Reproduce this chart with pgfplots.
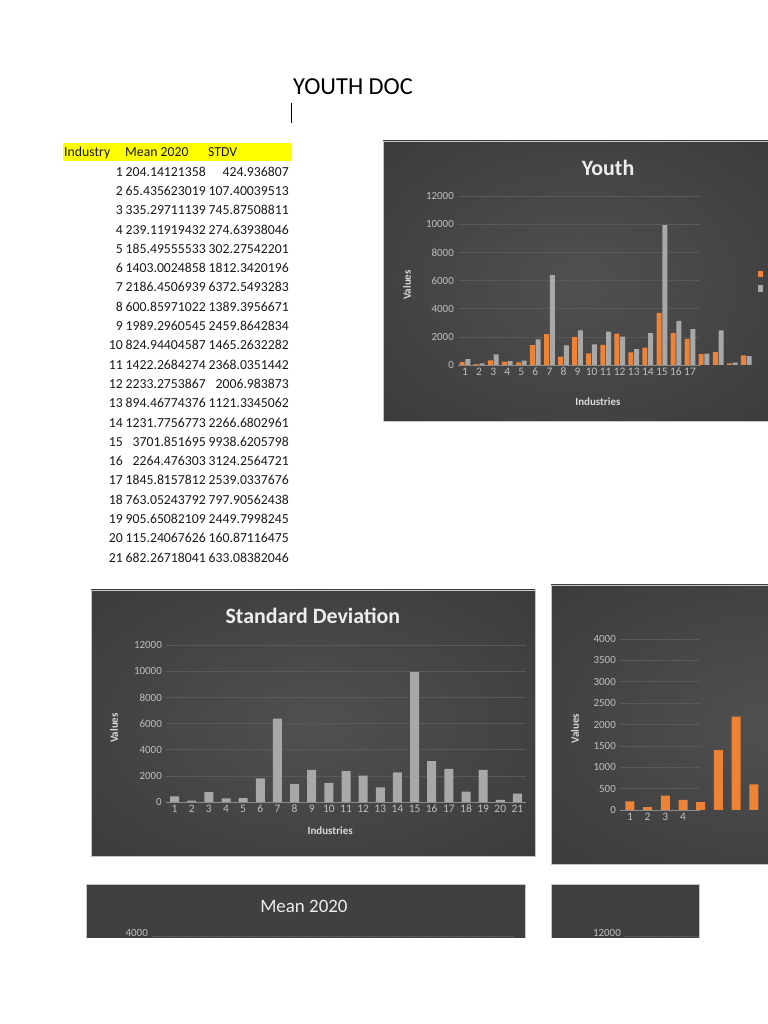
\documentclass[border=0pt]{standalone}
\usepackage{pgfplots}
\pgfplotsset{compat=1.18}
\usepackage{pgfplotstable}
\usepackage{fontspec}
\setmainfont{Carlito}
\definecolor{pnlin}{HTML}{505050}
\definecolor{pnlout}{HTML}{262626}
\definecolor{pnlflat}{HTML}{404040}
\definecolor{xlorange}{HTML}{EE8236}
\definecolor{xlgray}{HTML}{A8A8A8}
\definecolor{xltick}{HTML}{BFBFBF}
\definecolor{xlgrid}{HTML}{595959}
\definecolor{xlaxis}{HTML}{8C8C8C}
\definecolor{xltitle}{HTML}{EDEDED}
\definecolor{xllabel}{HTML}{D9D9D9}
\definecolor{xlyellow}{HTML}{FFFF00}
\pgfdeclareradialshading{panelshade}{\pgfpoint{0bp}{0bp}}{color(0bp)=(pnlin); color(72bp)=(pnlout)}

\pgfplotstableread{
ind mean stdv
1 204.14121358 424.936807
2 65.435623019 107.40039513
3 335.29711139 745.87508811
4 239.11919432 274.63938046
5 185.49555533 302.27542201
6 1403.0024858 1812.3420196
7 2186.4506939 6372.5493283
8 600.85971022 1389.3956671
9 1989.2960545 2459.8642834
10 824.94404587 1465.2632282
11 1422.2684274 2368.0351442
12 2233.2753867 2006.983873
13 894.46774376 1121.3345062
14 1231.7756773 2266.6802961
15 3701.851695 9938.6205798
16 2264.476303 3124.2564721
17 1845.8157812 2539.0337676
18 763.05243792 797.90562438
19 905.65082109 2449.7998245
20 115.24067626 160.87116475
21 682.26718041 633.08382046
}\youth

\pgfplotsset{
  xlpanel/.style={
    scale only axis,
    axis x line*=bottom,
    axis y line*=left,
    y axis line style={draw=none},
    x axis line style={draw=xlaxis, line width=0.8bp},
    ymajorgrids,
    grid style={draw=xlgrid, line width=0.6bp},
    major tick length=0pt,
    tick label style={font=\fontsize{11}{13}\selectfont, text=xltick},
    yticklabel style={anchor=east, inner sep=0pt, xshift=-4bp},
    xticklabel style={anchor=north, inner sep=0pt, yshift=-3bp, text height=7.5bp, text depth=0bp, font=\fontsize{11.5}{13}\selectfont},
    /pgf/number format/assume math mode=true,
    scaled y ticks=false,
    yticklabel style={/pgf/number format/1000 sep={}},
    ymin=0,
    title style={font=\fontsize{22}{26}\selectfont\bfseries, text=xltitle, anchor=center},
    label style={font=\fontsize{11}{13}\selectfont\bfseries, text=xllabel},
  }
}

\begin{document}
\begin{tikzpicture}[x=1bp,y=1bp]
\clip (0,0) rectangle (768,1024);
\fill[white] (0,0) rectangle (768,1024);

% document title and cursor
\node[anchor=base west, inner sep=0pt, font=\fontsize{24.5}{28}\selectfont] at (293,929) {YOUTH DOC};
\draw[line width=0.8bp] (291,901) -- (291,921);

% table
\fill[xlyellow] (63,863) rectangle (292,881);
\begin{scope}[every node/.style={inner sep=0pt, font=\fontsize{13.8}{16}\selectfont, text=black!90}]
\node[anchor=base west] at (64,867) {Industry};
\node[anchor=base west] at (125,867) {Mean 2020};
\node[anchor=base west] at (208,867) {STDV};
\foreach \i/\m/\s [count=\k] in {
1/204.14121358/424.936807,
2/65.435623019/107.40039513,
3/335.29711139/745.87508811,
4/239.11919432/274.63938046,
5/185.49555533/302.27542201,
6/1403.0024858/1812.3420196,
7/2186.4506939/6372.5493283,
8/600.85971022/1389.3956671,
9/1989.2960545/2459.8642834,
10/824.94404587/1465.2632282,
11/1422.2684274/2368.0351442,
12/2233.2753867/2006.983873,
13/894.46774376/1121.3345062,
14/1231.7756773/2266.6802961,
15/3701.851695/9938.6205798,
16/2264.476303/3124.2564721,
17/1845.8157812/2539.0337676,
18/763.05243792/797.90562438,
19/905.65082109/2449.7998245,
20/115.24067626/160.87116475,
21/682.26718041/633.08382046}{
  \node[anchor=base east] at (123,{847.8-(\k-1)*19.3}) {\i};
  \node[anchor=base east] at (206,{847.8-(\k-1)*19.3}) {\m};
  \node[anchor=base east] at (289,{847.8-(\k-1)*19.3}) {\s};
}
\end{scope}

% panels
\shade[shading=panelshade] (383,603) rectangle (778,883);
\draw[gray!45, line width=0.6bp] (383,603) rectangle (778,883);
\shade[shading=panelshade] (91,168) rectangle (535,434);
\draw[gray!45, line width=0.6bp] (91,168) rectangle (535,434);
\shade[shading=panelshade] (551,160) rectangle (996,439);
\draw[gray!45, line width=0.6bp] (551,160) rectangle (996,439);

% Youth chart
\begin{axis}[xlpanel,
  at={(458bp,659bp)}, anchor=south west,
  width=242bp, height=169bp,
  xmin=0.5, xmax=17.71, ymax=12000,
  ytick={0,2000,...,12000},
  xtick={1,...,17},
  clip=false,
  title={Youth},
  title style={at={(axis description cs:0.62,1.131)}},
  xlabel={Industries},
  xlabel style={at={(axis description cs:0.578,-0.219)}, anchor=center},
  ylabel={Values},
  ylabel style={at={(axis description cs:-0.211,0.473)}, anchor=center},
]
\addplot[ybar, bar width=5bp, bar shift=-2.9bp, fill=xlorange, draw=none] table[x=ind,y=mean]{\youth};
\addplot[ybar, bar width=5bp, bar shift=2.9bp, fill=xlgray, draw=none] table[x=ind,y=stdv]{\youth};
\end{axis}
\fill[xlorange] (758,747) rectangle (763,753);
\fill[xlgray] (758,732) rectangle (763,739);

% Standard Deviation chart
\begin{axis}[xlpanel,
  at={(166bp,222bp)}, anchor=south west,
  width=360bp, height=157bp,
  xmin=0.5, xmax=21.5, ymax=12000,
  ytick={0,2000,...,12000},
  xtick={1,...,21},
  title={Standard Deviation},
  title style={at={(axis description cs:0.408,1.146)}},
  xlabel={Industries},
  xlabel style={at={(axis description cs:0.456,-0.185)}, anchor=center},
  ylabel={Values},
  ylabel style={at={(axis description cs:-0.144,0.471)}, anchor=center},
]
\addplot[ybar, bar width=9bp, bar shift=0pt, fill=xlgray, draw=none] table[x=ind,y=stdv]{\youth};
\end{axis}

% Mean chart (truncated)
\begin{axis}[xlpanel,
  at={(620bp,214bp)}, anchor=south west,
  width=80bp, height=171bp,
  xmin=0.44, xmax=4.96, ymax=4000,
  ytick={0,500,...,4000},
  xtick={1,...,4},
  clip=false,
  ylabel={Values},
  ylabel style={at={(axis description cs:-0.5625,0.474)}, anchor=center},
]
\addplot[ybar, bar width=9bp, bar shift=0pt, fill=xlorange, draw=none, restrict x to domain=1:8] table[x=ind,y=mean]{\youth};
\end{axis}

% bottom panels (cut by page end)
\begin{scope}
\clip (86,86) rectangle (525,140);
\fill[pnlflat] (86,86) rectangle (525,140);
\begin{axis}[xlpanel,
  at={(152bp,88bp)}, anchor=north west,
  width=360bp, height=171bp,
  xmin=0.5, xmax=21.5, ymin=0, ymax=4000,
  ytick={4000},
  yticklabel style={yshift=3bp},
  xtick={0.5,1.5,...,21.5}, xticklabels={},
  xmajorgrids,
  title={Mean 2020},
  title style={at={(axis description cs:0.422,1.14)}, font=\fontsize{19}{22}\selectfont},
]
\addplot[ybar, bar width=9bp, bar shift=0pt, fill=xlorange, draw=none] table[x=ind,y=mean]{\youth};
\end{axis}
\end{scope}
\draw[gray!45, line width=0.6bp] (86,86) -- (86,140) -- (525,140) -- (525,86);

\begin{scope}
\clip (551,86) rectangle (699,140);
\fill[pnlflat] (551,86) rectangle (699,140);
\begin{axis}[xlpanel,
  at={(625bp,88bp)}, anchor=north west,
  width=100bp, height=157bp,
  xmin=0.5, xmax=7.1, ymin=0, ymax=12000,
  ytick={12000},
  yticklabel style={yshift=3bp},
  xtick={0.5,1.5,...,6.5}, xticklabels={},
  xmajorgrids,
]
\addplot[ybar, bar width=5bp, bar shift=0pt, fill=xlgray, draw=none] table[x=ind,y=stdv]{\youth};
\end{axis}
\end{scope}
\draw[gray!45, line width=0.6bp] (551,86) -- (551,140) -- (699,140) -- (699,86);
\end{tikzpicture}
\end{document}
